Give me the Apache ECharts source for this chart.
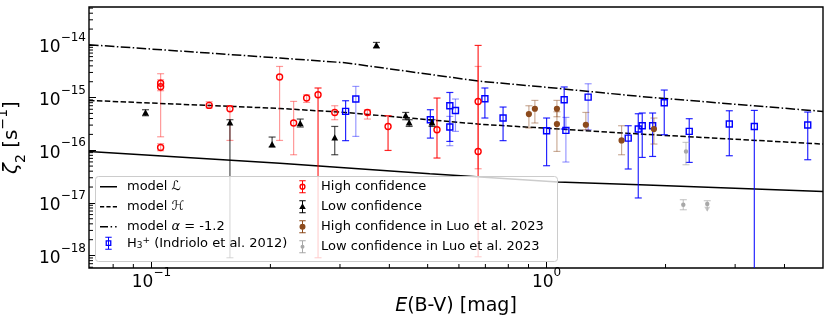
<!DOCTYPE html>
<html><head><meta charset="utf-8">
<script src="https://cdn.jsdelivr.net/npm/echarts@6/dist/echarts.min.js"></script>
<style>html,body{margin:0;padding:0;background:#fff}#c{width:831px;height:325px}</style>
</head><body><div id="c"></div>
<script>
// ---- model curves [E(B-V), zeta2] ----
const modelL = [[0.0695,9.45e-17],[0.2113,5.66e-17],[0.5064,3.58e-17],[1.068,2.49e-17],[1.722,2.21e-17],[5.006,1.65e-17]];
const modelH = [[0.0695,8.83e-16],[0.2113,6.22e-16],[0.3086,5.22e-16],[0.678,3.12e-16],[0.996,2.62e-16],[1.722,2.03e-16],[5.006,1.31e-16]];
const modelA = [[0.0695,1.009e-14],[0.2113,5.64e-15],[0.3086,4.59e-15],[0.678,2.04e-15],[0.996,1.573e-15],[1.722,1.051e-15],[5.006,5.46e-16]];
// ---- points [x, y, low, high] ----
const highConf = [
 [0.1055,1.87e-15,1.80e-16,2.84e-15],[0.1055,1.61e-15,1.35e-15,2.18e-15],[0.1055,1.13e-16,9.78e-17,1.33e-16],
 [0.140,7.10e-16,6.33e-16,8.34e-16],[0.158,6.14e-16,1.535e-16,7.0e-16],[0.211,2.46e-15,1.535e-16,3.90e-15],
 [0.229,3.29e-16,8.21e-17,8.45e-16],[0.247,9.80e-16,8.09e-16,1.13e-15],[0.291,5.22e-16,3.80e-16,7.0e-16],
 [0.352,5.22e-16,3.91e-16,5.88e-16],[0.671,8.45e-16,4.45e-17,3.90e-15]
];
const highConfStrong = [
 [0.264,1.13e-15,9.08e-19,1.52e-15],[0.397,2.83e-16,9.91e-17,4.52e-16],
 [0.528,2.45e-16,7.11e-17,9.80e-16],[0.671,9.49e-17,9.49e-19,9.78e-15]
];
const lowConf = [
 [0.0966,5.09e-16,4.52e-16,5.88e-16],[0.158,3.29e-16,9.08e-19,3.80e-16],[0.202,1.27e-16,1.15e-16,1.78e-16],
 [0.238,3.19e-16,2.76e-16,3.91e-16],[0.291,1.70e-16,8.21e-17,2.83e-16],[0.371,9.78e-15,8.73e-15,1.115e-14],
 [0.440,4.52e-16,3.80e-16,5.22e-16],[0.449,3.29e-16,2.83e-16,3.80e-16],[0.513,3.29e-16,2.83e-16,3.80e-16]
];
const h3p = [
 [0.310,5.46e-16,1.52e-16,8.71e-16],[0.508,3.80e-16,1.70e-16,5.88e-16],[0.569,7.0e-16,1.47e-16,1.25e-15],
 [0.698,9.51e-16,4.09e-16,1.52e-15],[0.776,4.09e-16,1.52e-16,6.61e-16],[1.0,2.35e-16,5.08e-17,4.09e-16],
 [1.108,9.10e-16,2.53e-16,1.59e-15],[1.609,1.70e-16,4.40e-17,2.92e-16],[1.706,2.53e-16,1.24e-17,4.93e-16],
 [1.746,2.92e-16,7.30e-17,5.09e-16],[1.855,2.92e-16,7.62e-17,5.09e-16],[1.985,7.98e-16,1.97e-16,1.39e-15],
 [2.296,2.28e-16,5.87e-17,3.97e-16],[2.90,3.15e-16,7.86e-17,5.62e-16],[3.355,2.83e-16,1e-19,5.70e-16],
 [4.58,3.01e-16,6.60e-17,5.31e-16]
];
const h3pLight = [
 [0.329,9.39e-16,1.83e-16,1.63e-15],[0.569,2.76e-16,1.22e-16,4.39e-16],[0.588,5.70e-16,2.28e-16,9.39e-16],
 [1.119,2.38e-16,5.97e-17,4.20e-16],[1.274,1.02e-15,2.45e-16,1.83e-15]
];
const luoHigh = [
 [0.902,4.87e-16,2.64e-16,7.0e-16],[0.934,6.14e-16,3.29e-16,8.83e-16],[1.062,6.14e-16,4.33e-16,8.83e-16],
 [1.062,3.15e-16,9.49e-17,5.38e-16],[1.257,3.05e-16,2.45e-16,5.22e-16],[1.548,1.535e-16,8.21e-17,2.92e-16],
 [1.869,2.53e-16,1.31e-16,4.09e-16]
];
const luoLow = [[2.253,9.49e-17,5.30e-17,1.41e-16],[2.218,9.22e-18,7.41e-18,1.15e-17]];
const luoLowUpperLimit = [[2.55,9.51e-18,7.1e-18,1.1e-17]];
// ---- axis ticks ----
const xRange = [0.0695, 5.006];
const yRange = [5.8e-19, 5.25e-14];
const xMinorTicks = [0.08,0.09,0.2,0.3,0.4,0.5,0.6,0.7,0.8,0.9,2,3,4];
const yMinorMantissas = [2,3,4,5,6,7,8,9];
const yMinorDecades = [-19,-18,-17,-16,-15,-14];

const F = 'DejaVu Sans';
const RED = '#ff0000', BLUE = '#0000ff', BLACK = '#000000', BROWN = '#8c4a1c', GRAY = '#a8a8a8';

function powLabel(v) {
  const l = Math.log10(v), e = Math.round(l);
  if (Math.abs(l - e) > 1e-6) return '';
  return '{b|10}{s|' + (e < 0 ? '\u2212' : '') + Math.abs(e) + '}';
}
const xTickRich = {
  b: {fontFamily: F, fontSize: 17, color: '#000', padding: [7.5, 0, 7.5, 0]},
  s: {fontFamily: F, fontSize: 12, color: '#000', verticalAlign: 'top'}
};
const yTickRich = {
  b: {fontFamily: F, fontSize: 17, color: '#000', padding: [10.5, 0, 4.5, 0]},
  s: {fontFamily: F, fontSize: 12, color: '#000', verticalAlign: 'top', padding: [3, 0, 0, 0]}
};

function markerEl(kind, p, color) {
  const x = p[0], y = p[1];
  if (kind === 'square') return {type: 'rect', shape: {x: x - 3, y: y - 3, width: 6, height: 6}, style: {fill: 'none', stroke: color, lineWidth: 1.4}};
  if (kind === 'ocircle') return {type: 'circle', shape: {cx: x, cy: y, r: 3}, style: {fill: 'none', stroke: color, lineWidth: 1.4}};
  if (kind === 'triangle') return {type: 'polygon', shape: {points: [[x, y - 3.8], [x + 3.4, y + 2.5], [x - 3.4, y + 2.5]]}, style: {fill: color}};
  if (kind === 'circle') return {type: 'circle', shape: {cx: x, cy: y, r: 3.1}, style: {fill: color}};
  return {type: 'circle', shape: {cx: x, cy: y, r: 2.2}, style: {fill: color}};
}
function makeErr(kind, color, barOpacity, arrow) {
  return function (params, api) {
    const cs = params.coordSys;
    const xv = api.value(0);
    const p = api.coord([xv, api.value(1)]);
    const pl = api.coord([xv, api.value(2)]);
    const ph = api.coord([xv, api.value(3)]);
    const top = cs.y, bot = cs.y + cs.height, cw = 3.5;
    const bs = {stroke: color, lineWidth: 1.2, opacity: barOpacity};
    const ch = [];
    ch.push({type: 'line', shape: {x1: p[0], y1: Math.max(ph[1], top), x2: p[0], y2: Math.min(pl[1], bot)}, style: bs});
    if (ph[1] >= top) ch.push({type: 'line', shape: {x1: p[0] - cw, y1: ph[1], x2: p[0] + cw, y2: ph[1]}, style: bs});
    if (arrow) {
      ch.push({type: 'polygon', shape: {points: [[p[0] - 3, pl[1] - 4], [p[0] + 3, pl[1] - 4], [p[0], pl[1] + 1]]}, style: {fill: color, opacity: barOpacity}});
    } else if (pl[1] <= bot) {
      ch.push({type: 'line', shape: {x1: p[0] - cw, y1: pl[1], x2: p[0] + cw, y2: pl[1]}, style: bs});
    }
    ch.push(markerEl(kind, p, color));
    return {type: 'group', children: ch};
  };
}
function errSeries(name, data, kind, color, barOpacity, arrow) {
  return {type: 'custom', name: name, data: data, encode: {x: 0, y: 1}, itemStyle: {color: color},
    renderItem: makeErr(kind, color, barOpacity, arrow), z: 5, silent: true};
}
// legend icons (17 x 14 frame)
const CORNERS = 'M0,0 H0.02 V0.02 H0 Z M16.98,13.98 H17 V14 H16.98 Z ';
const BAR = 'M5.3,0.5 H11.7 V1.5 H5.3 Z M5.3,12.5 H11.7 V13.5 H5.3 Z M8,1 H9 V13 H8 Z ';
const iconSquare = 'path://' + CORNERS + BAR + 'M5.6,4.1 H11.4 V9.9 H5.6 Z M6.9,5.4 V8.6 H10.1 V5.4 Z';
const iconOCircle = 'path://' + CORNERS + BAR + 'M5.4,7 A3.1,3.1 0 1,1 11.6,7 A3.1,3.1 0 1,1 5.4,7 Z M6.8,7 A1.7,1.7 0 1,0 10.2,7 A1.7,1.7 0 1,0 6.8,7 Z';
const iconTri = 'path://' + CORNERS + BAR + 'M8.5,3.6 L11.8,9.3 H5.2 Z';
const iconDot = 'path://' + CORNERS + BAR + 'M5.5,7 A3,3 0 1,1 11.5,7 A3,3 0 1,1 5.5,7 Z';
const iconSmall = 'path://' + CORNERS + BAR + 'M6.5,7 A2,2 0 1,1 10.5,7 A2,2 0 1,1 6.5,7 Z';
const iconSolid = 'path://' + CORNERS + 'M0,6.25 H17 V7.75 H0 Z';
const iconDashed = 'path://' + CORNERS + 'M0,6.25 H4.2 V7.75 H0 Z M6.4,6.25 H10.6 V7.75 H6.4 Z M12.8,6.25 H17 V7.75 H12.8 Z';
const iconDashDot = 'path://' + CORNERS + 'M0,6.25 H8 V7.75 H0 Z M10.6,6.25 H12.1 V7.75 H10.6 Z M15.1,6.25 H16.6 V7.75 H15.1 Z';

const legendText = {fontFamily: F, fontSize: 13, color: '#000', lineHeight: 14, padding: [0, 0, 0, 5],
  rich: {
    n: {fontFamily: F, fontSize: 13, color: '#000', padding: [4, 0, 4, 0]},
    i: {fontFamily: F, fontSize: 13, color: '#000', fontStyle: 'italic'},
    sb: {fontFamily: F, fontSize: 9, color: '#000', verticalAlign: 'bottom'},
    sp: {fontFamily: F, fontSize: 9, color: '#000', verticalAlign: 'top'}
  }};
const legendLabels = {
  'model L': 'model \u2112',
  'model H': 'model \u210B',
  'model a': 'model {i|\u03B1} = -1.2',
  'H3': '{n|H}{sb|3}{sp|+}{n| (Indriolo et al. 2012)}'
};
const legendBase = {orient: 'vertical', itemWidth: 17, itemHeight: 14, itemGap: 6, padding: 0, z: 60,
  selectedMode: false, textStyle: legendText, formatter: n => legendLabels[n] || n};

const yMinorTicks = [];
yMinorDecades.forEach(d => yMinorMantissas.forEach(m => yMinorTicks.push(m * Math.pow(10, d))));

const chart = echarts.init(document.getElementById('c'), null, {renderer: 'canvas'});
chart.setOption({
  animation: false,
  backgroundColor: '#fff',
  grid: {left: 89, right: 8, top: 7, bottom: 57, show: true, borderColor: '#000', borderWidth: 1.4, backgroundColor: 'transparent',
    containLabel: false, outerBoundsMode: 'none'},
  xAxis: {type: 'log', logBase: 10, min: xRange[0], max: xRange[1],
    axisLine: {show: false}, splitLine: {show: false},
    axisTick: {show: true, inside: true, length: 7, lineStyle: {color: '#000', width: 1}},
    axisLabel: {formatter: powLabel, rich: xTickRich, margin: -1.5, showMinLabel: false, showMaxLabel: false},
    name: '{i|E}{n|(B-V) [mag]}', nameLocation: 'middle', nameGap: 29,
    nameTextStyle: {rich: {
      i: {fontFamily: F, fontSize: 19, fontStyle: 'italic', color: '#000'},
      n: {fontFamily: F, fontSize: 19, color: '#000'}}}
  },
  yAxis: {type: 'log', logBase: 10, min: yRange[0], max: yRange[1],
    axisLine: {show: false}, splitLine: {show: false},
    axisTick: {show: true, inside: true, length: 7, lineStyle: {color: '#000', width: 1}},
    axisLabel: {formatter: powLabel, rich: yTickRich, margin: 3, showMinLabel: false, showMaxLabel: false},
    name: '{i|\u03B6}{sb|2}{n| [s}{sp|\u22121}{n|]}', nameLocation: 'middle', nameGap: 56, nameRotate: 90,
    nameTextStyle: {rich: {
      i: {fontFamily: F, fontSize: 20, fontStyle: 'italic', color: '#000', padding: [6, 0, 6, 0]},
      n: {fontFamily: F, fontSize: 20, color: '#000', padding: [6, 0, 6, 0]},
      sb: {fontFamily: F, fontSize: 14, color: '#000', verticalAlign: 'bottom'},
      sp: {fontFamily: F, fontSize: 14, color: '#000', verticalAlign: 'top'}}}
  },
  graphic: [{type: 'rect', z: 50, shape: {x: 95.5, y: 176.5, width: 462, height: 85, r: 3},
    style: {fill: 'rgba(255,255,255,0.8)', stroke: '#cccccc', lineWidth: 1}}],
  legend: [
    Object.assign({}, legendBase, {left: 100, top: 179.7, data: [
      {name: 'model L', icon: iconSolid}, {name: 'model H', icon: iconDashed}, {name: 'model a', icon: iconDashDot}]}),
    Object.assign({}, legendBase, {left: 100, top: 236.2, data: [{name: 'H3', icon: iconSquare}]}),
    Object.assign({}, legendBase, {left: 294, top: 179.7, data: [
      {name: 'High confidence', icon: iconOCircle},
      {name: 'Low confidence', icon: iconTri},
      {name: 'High confidence in Luo et al. 2023', icon: iconDot},
      {name: 'Low confidence in Luo et al. 2023', icon: iconSmall}]})
  ],
  series: [
    {type: 'line', name: 'model L', data: modelL, symbol: 'none', showSymbol: false, lineStyle: {color: '#000', width: 1.5, type: 'solid'}, itemStyle: {color: '#000'}, z: 3, silent: true},
    {type: 'line', name: 'model H', data: modelH, symbol: 'none', showSymbol: false, lineStyle: {color: '#000', width: 1.5, type: [5.5, 2.4]}, itemStyle: {color: '#000'}, z: 3, silent: true},
    {type: 'line', name: 'model a', data: modelA, symbol: 'none', showSymbol: false, lineStyle: {color: '#000', width: 1.5, type: [9.6, 2.4, 1.5, 2.4]}, itemStyle: {color: '#000'}, z: 3, silent: true},
    errSeries('H3', h3p, 'square', BLUE, 0.85, false),
    errSeries('H3', h3pLight, 'square', BLUE, 0.4, false),
    errSeries('High confidence', highConf, 'ocircle', RED, 0.4, false),
    errSeries('High confidence', highConfStrong, 'ocircle', RED, 0.85, false),
    errSeries('Low confidence', lowConf, 'triangle', BLACK, 0.7, false),
    errSeries('High confidence in Luo et al. 2023', luoHigh, 'circle', BROWN, 0.45, false),
    errSeries('Low confidence in Luo et al. 2023', luoLow, 'dot', GRAY, 0.6, false),
    errSeries('Low confidence in Luo et al. 2023', luoLowUpperLimit, 'dot', GRAY, 0.6, true),
    {type: 'custom', name: 'xminor', data: xMinorTicks.map(v => [v, 1e-16]), encode: {x: 0, y: 1}, silent: true, z: 4,
      renderItem: function (params, api) {
        const cs = params.coordSys; const p = api.coord([api.value(0), api.value(1)]);
        const b = cs.y + cs.height;
        return {type: 'line', shape: {x1: p[0], y1: b, x2: p[0], y2: b - 4}, style: {stroke: '#000', lineWidth: 1}};
      }},
    {type: 'custom', name: 'yminor', data: yMinorTicks.filter(v => v > yRange[0] && v < yRange[1]).map(v => [0.1, v]), encode: {x: 0, y: 1}, silent: true, z: 4,
      renderItem: function (params, api) {
        const cs = params.coordSys; const p = api.coord([api.value(0), api.value(1)]);
        return {type: 'line', shape: {x1: cs.x, y1: p[1], x2: cs.x + 4, y2: p[1]}, style: {stroke: '#000', lineWidth: 1}};
      }}
  ]
});
</script></body></html>
